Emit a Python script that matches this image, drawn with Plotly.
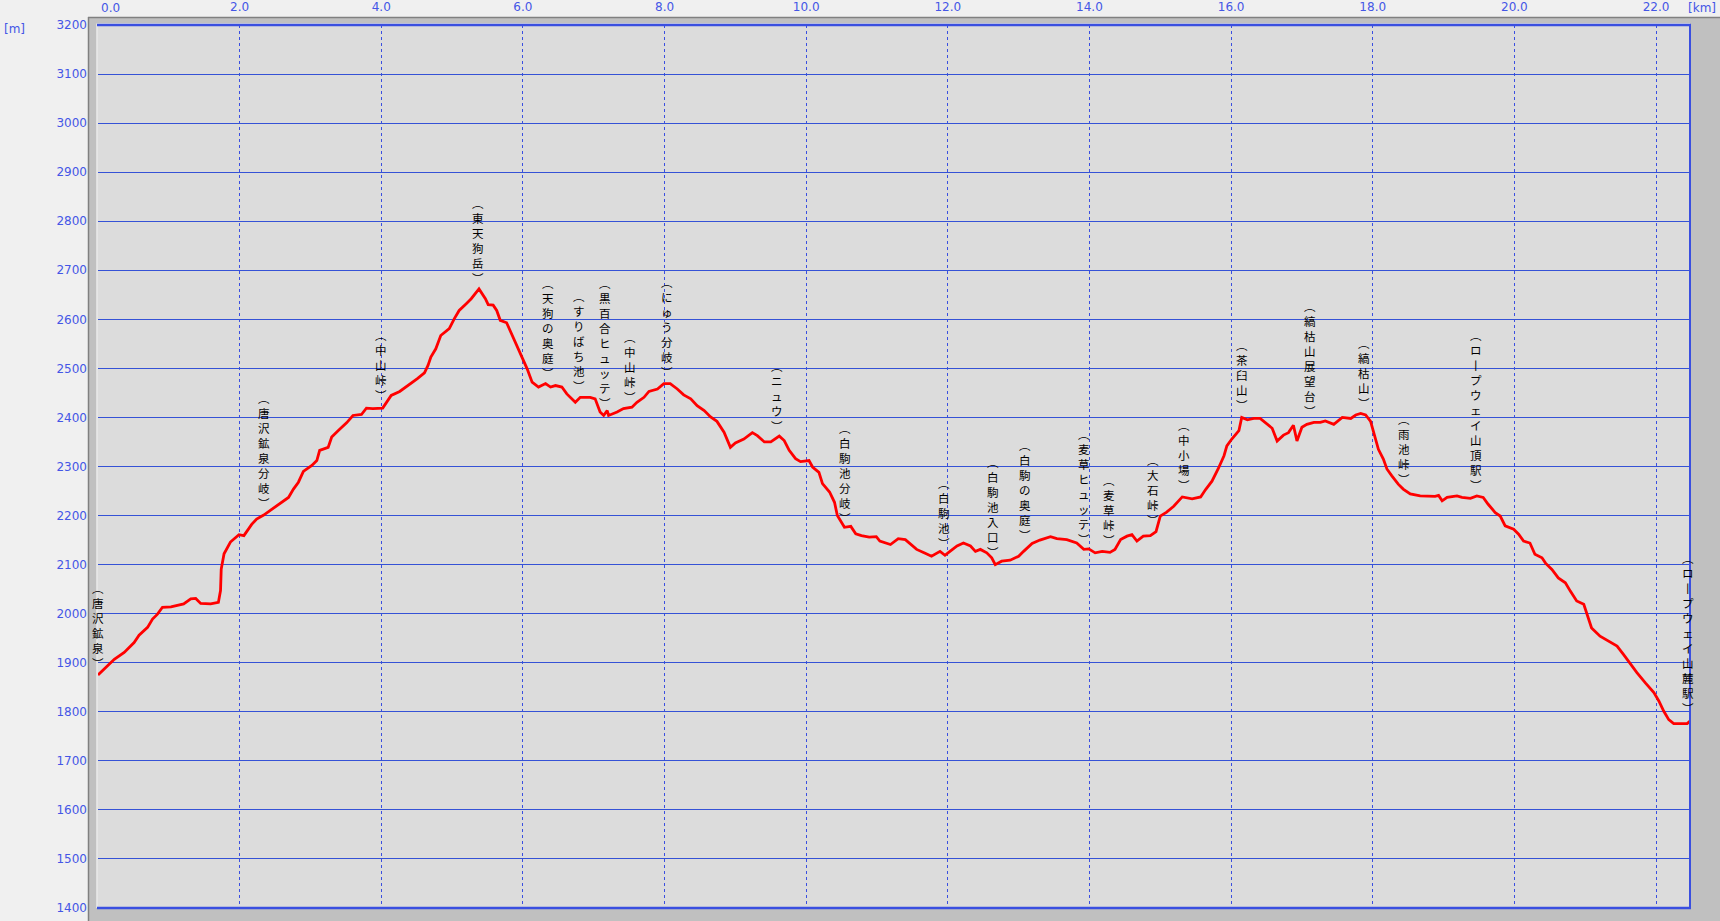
import plotly.graph_objects as go

# ---------------- data ----------------
dist_km = [
    0.00, 0.23, 0.37, 0.51, 0.58, 0.70, 0.77, 0.84, 0.91, 1.03, 1.21, 1.31, 1.38, 1.45, 1.59, 1.70,
    1.73, 1.74, 1.78, 1.87, 1.99, 2.06, 2.17, 2.24, 2.34, 2.45, 2.57, 2.69, 2.76, 2.83, 2.90, 3.02,
    3.09, 3.13, 3.25, 3.30, 3.39, 3.51, 3.60, 3.72, 3.79, 3.88, 4.02, 4.14, 4.26, 4.42, 4.51, 4.61,
    4.66, 4.70, 4.77, 4.84, 4.96, 5.03, 5.10, 5.20, 5.27, 5.38, 5.47, 5.51, 5.58, 5.63, 5.68, 5.77,
    5.84, 5.92, 5.99, 6.06, 6.13, 6.22, 6.32, 6.39, 6.46, 6.55, 6.62, 6.74, 6.81, 6.95, 7.02, 7.09,
    7.14, 7.19, 7.21, 7.33, 7.42, 7.54, 7.61, 7.71, 7.78, 7.90, 7.99, 8.08, 8.18, 8.27, 8.37, 8.46,
    8.56, 8.65, 8.74, 8.84, 8.93, 9.00, 9.12, 9.24, 9.31, 9.41, 9.50, 9.62, 9.69, 9.76, 9.85, 9.92,
    10.04, 10.09, 10.18, 10.23, 10.33, 10.40, 10.44, 10.54, 10.63, 10.70, 10.78, 10.89, 10.99, 11.04,
    11.19, 11.30, 11.40, 11.47, 11.56, 11.68, 11.77, 11.89, 11.96, 12.03, 12.13, 12.22, 12.32, 12.39,
    12.46, 12.55, 12.62, 12.67, 12.76, 12.88, 13.00, 13.07, 13.19, 13.30, 13.45, 13.54, 13.68, 13.82,
    13.92, 13.99, 14.08, 14.18, 14.29, 14.36, 14.44, 14.53, 14.60, 14.67, 14.76, 14.86, 14.91, 14.94,
    15.00, 15.09, 15.19, 15.31, 15.45, 15.57, 15.64, 15.73, 15.82, 15.90, 15.94, 16.01, 16.11, 16.15,
    16.23, 16.32, 16.41, 16.51, 16.58, 16.65, 16.74, 16.81, 16.88, 16.93, 17.00, 17.07, 17.17, 17.26,
    17.33, 17.45, 17.57, 17.69, 17.76, 17.83, 17.90, 17.97, 18.02, 18.08, 18.15, 18.20, 18.27, 18.36,
    18.43, 18.53, 18.67, 18.88, 18.93, 18.98, 19.05, 19.19, 19.26, 19.38, 19.47, 19.56, 19.63, 19.73,
    19.80, 19.87, 19.99, 20.06, 20.13, 20.22, 20.29, 20.39, 20.44, 20.53, 20.62, 20.72, 20.79, 20.88,
    20.98, 21.02, 21.09, 21.21, 21.33, 21.45, 21.54, 21.64, 21.73, 21.85, 21.97, 22.04, 22.11, 22.18,
    22.25, 22.34, 22.44, 22.48,
]
elev_m = [
    1875, 1907, 1921, 1941, 1956, 1972, 1989, 1999, 2013, 2014, 2020, 2030, 2031, 2021, 2020, 2023,
    2047, 2091, 2122, 2146, 2161, 2159, 2182, 2193, 2201, 2212, 2225, 2237, 2254, 2268, 2290, 2302,
    2312, 2333, 2339, 2360, 2373, 2389, 2404, 2406, 2419, 2418, 2419, 2445, 2453, 2469, 2479, 2491,
    2506, 2523, 2540, 2567, 2581, 2601, 2618, 2632, 2642, 2662, 2642, 2630, 2629, 2618, 2598, 2593,
    2571, 2544, 2523, 2499, 2472, 2462, 2469, 2462, 2465, 2462, 2448, 2431, 2441, 2441, 2438, 2411,
    2404, 2414, 2404, 2411, 2418, 2421, 2431, 2441, 2453, 2458, 2469, 2469, 2458, 2446, 2438, 2424,
    2414, 2401, 2392, 2370, 2339, 2348, 2356, 2369, 2363, 2350, 2350, 2362, 2353, 2333, 2316, 2310,
    2312, 2299, 2288, 2265, 2248, 2227, 2200, 2176, 2178, 2163, 2159, 2156, 2157, 2148,
    2141, 2153, 2151, 2143, 2131, 2123, 2117, 2127, 2119, 2127, 2138, 2144, 2138, 2127,
    2131, 2124, 2114, 2100, 2107, 2109, 2117, 2127, 2143, 2150, 2157, 2153, 2151, 2144,
    2131, 2132, 2124, 2127, 2125, 2131, 2151, 2158, 2161, 2148, 2158, 2159, 2165, 2167,
    2199, 2207, 2219, 2238, 2234, 2238, 2253, 2270, 2296, 2322, 2342, 2356, 2373, 2400,
    2395, 2398, 2398, 2386, 2378, 2352, 2364, 2369, 2384, 2352, 2380, 2386, 2390, 2390,
    2393, 2386, 2400, 2398, 2405, 2408, 2405, 2392, 2368, 2335, 2315, 2295, 2281, 2264,
    2254, 2244, 2240, 2239, 2241, 2230, 2237, 2240, 2237, 2235, 2240, 2237, 2223, 2206,
    2199, 2179, 2172, 2162, 2148, 2144, 2121, 2114, 2103, 2090, 2073, 2063, 2046, 2026,
    2019, 2002, 1971, 1954, 1944, 1934, 1917, 1897, 1880, 1859, 1839, 1822, 1801, 1784,
    1776, 1776, 1776, 1781,
]

wp_names = ["唐沢鉱泉", "唐沢鉱泉分岐", "中山峠", "東天狗岳", "天狗の奥庭", "すりばち池",
            "黒百合ヒュッテ", "中山峠", "にゅう分岐", "ニュウ", "白駒池分岐", "白駒池",
            "白駒池入口", "白駒の奥庭", "麦草ヒュッテ", "麦草峠", "大石峠", "中小場",
            "茶臼山", "縞枯山展望台", "縞枯山", "雨池峠", "ロープウェイ山頂駅", "ロープウェイ山麓駅"]
wp_km = [0.0, 2.35, 3.99, 5.36, 6.36, 6.79, 7.16, 7.51, 8.04, 9.59, 10.55, 11.94,
         12.64, 13.09, 13.92, 14.27, 14.90, 15.33, 16.15, 17.11, 17.88, 18.44, 19.46, 22.45]
# elevation at which each vertical label's bottom sits
label_base_m = [1912, 2238, 2459, 2697, 2503, 2477, 2442, 2454, 2505, 2395, 2208, 2156,
                2138, 2173, 2165, 2163, 2203, 2275, 2438, 2426, 2442, 2287, 2275, 1820]

x_tick_vals = [0, 2, 4, 6, 8, 10, 12, 14, 16, 18, 20, 22]
x_tick_text = ["", "2.0", "4.0", "6.0", "8.0", "10.0", "12.0", "14.0", "16.0", "18.0", "20.0", "22.0"]
y_tick_vals = list(range(1400, 3201, 100))

# ---------------- layout geometry ----------------
W, H = 1720, 921
L, R, T, B = 98, 1690, 25, 908
X_MAX = 22.48

def px(x):
    return (x - L) / (R - L)

def py(y):
    return (B - y) / (B - T)

BLUE = "#3a4fe0"
GRID = "#3552d6"
TICKC = "#4456e6"
FONT = "DejaVu Sans"

def vertical(s):
    chars = ["︵"] + [("丨" if c == "ー" else c) for c in s] + ["︶"]
    return "<br>".join(chars)

fig = go.Figure()
fig.add_trace(go.Scatter(
    x=dist_km, y=elev_m, mode="lines",
    line=dict(color="#ff0000", width=2.8),
    hoverinfo="x+y", showlegend=False, cliponaxis=True,
))

shapes = [
    # grey sunken frame
    dict(type="rect", xref="paper", yref="paper", x0=px(88), x1=px(W + 5), y0=py(17), y1=py(H + 5),
         fillcolor="#c0c0c0", line=dict(width=0), layer="below"),
    dict(type="line", xref="paper", yref="paper", x0=px(88.5), x1=px(88.5), y0=py(17), y1=py(H + 5),
         line=dict(color="#808080", width=1.5), layer="below"),
    dict(type="line", xref="paper", yref="paper", x0=px(88), x1=px(W + 5), y0=py(17.5), y1=py(17.5),
         line=dict(color="#808080", width=1.5), layer="below"),
    dict(type="rect", xref="paper", yref="paper", x0=px(96.5), x1=px(R), y0=py(23.5), y1=py(B),
         fillcolor="#ffffff", line=dict(width=0), layer="below"),
    dict(type="rect", xref="paper", yref="paper", x0=px(97.3), x1=px(R), y0=py(24.3), y1=py(B),
         fillcolor="#dcdcdc", line=dict(width=0), layer="below"),
    # blue borders (top, bottom, right)
    dict(type="line", xref="paper", yref="paper", x0=px(97), x1=px(R + 1), y0=1, y1=1,
         line=dict(color=BLUE, width=2.5)),
    dict(type="line", xref="paper", yref="paper", x0=px(97), x1=px(R + 1), y0=0, y1=0,
         line=dict(color=BLUE, width=2.5)),
    dict(type="line", xref="paper", yref="paper", x0=1, x1=1, y0=0, y1=1,
         line=dict(color=BLUE, width=2)),
]

annotations = []
for name, k, base in zip(wp_names, wp_km, label_base_m):
    annotations.append(dict(
        x=k, y=base, xref="x", yref="y", text=vertical(name), showarrow=False,
        xanchor="center", yanchor="bottom", align="center", yshift=-15,
        font=dict(family="Noto Sans CJK JP", size=11.5, color="#000000"),
        borderpad=0,
    ))

# unit labels and shifted 0.0 tick label
annotations += [
    dict(x=px(14), y=py(29), xref="paper", yref="paper", text="[m]", showarrow=False,
         xanchor="center", yanchor="middle", font=dict(family=FONT, size=12, color=TICKC)),
    dict(x=px(1702), y=py(8), xref="paper", yref="paper", text="[km]", showarrow=False,
         xanchor="center", yanchor="middle", font=dict(family=FONT, size=12, color=TICKC)),
    dict(x=0, y=py(8), xref="x", yref="paper", text="0.0", showarrow=False,
         xanchor="left", xshift=1, yanchor="middle", font=dict(family=FONT, size=12, color=TICKC)),
]

fig.update_layout(
    width=W, height=H, autosize=False,
    margin=dict(l=L, r=W - R, t=T, b=H - B, pad=0, autoexpand=False),
    paper_bgcolor="#f0f0f0", plot_bgcolor="#dcdcdc",
    font=dict(family=FONT, size=12, color=TICKC),
    shapes=shapes, annotations=annotations, showlegend=False,
    xaxis=dict(
        range=[0, X_MAX], side="top", tickmode="array", tickvals=x_tick_vals, ticktext=x_tick_text,
        showgrid=True, gridcolor=BLUE, gridwidth=1, griddash="dot", automargin=False,
        zeroline=False, showline=False, ticks="", ticklabelstandoff=11,
        tickfont=dict(family=FONT, size=12, color=TICKC), fixedrange=True,
    ),
    yaxis=dict(
        range=[1400, 3200], tickmode="array", tickvals=y_tick_vals,
        ticktext=[str(v) for v in y_tick_vals], automargin=False,
        showgrid=True, gridcolor=GRID, gridwidth=1.2,
        zeroline=False, showline=False, ticks="", ticklabelstandoff=10,
        tickfont=dict(family=FONT, size=12, color=TICKC), fixedrange=True,
    ),
)

fig.write_html(
    "out.html",
    config={"displayModeBar": False},
    post_script="document.body.style.margin='0';document.body.style.padding='0';"
                "document.body.style.overflow='hidden';document.body.style.background='#f0f0f0';",
)
